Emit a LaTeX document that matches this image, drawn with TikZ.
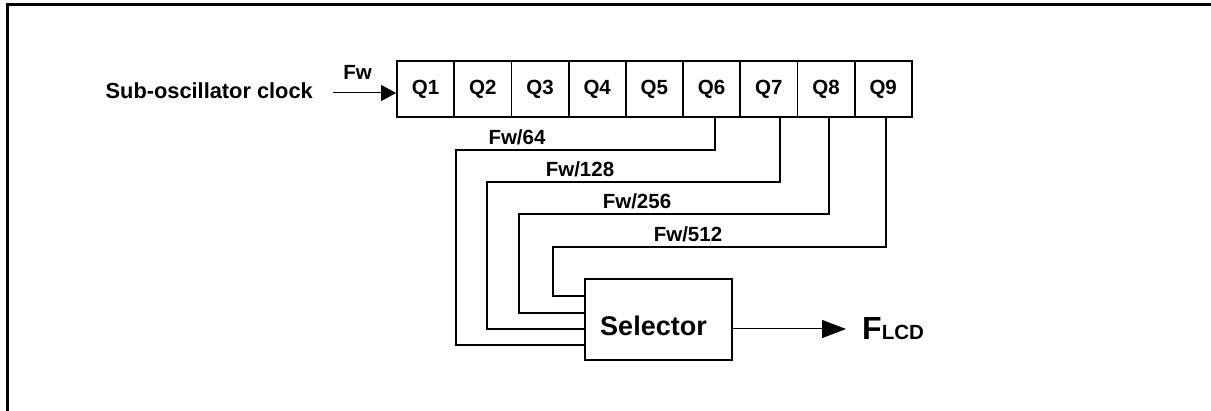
\documentclass[tikz,border=0pt]{standalone}
\usepackage{fontspec}
\setmainfont{Liberation Sans}
\usetikzlibrary{arrows.meta,calc}
\begin{document}
\begin{tikzpicture}[x=1pt,y=-1pt,
  frameline/.style={line width=3pt,line cap=rect},
  cell/.style={draw,line width=1.8pt,minimum width=57.2pt,minimum height=56pt,inner sep=0pt,
    font=\fontsize{20.5}{24}\selectfont\bfseries},
  txt/.style={inner sep=0pt,font=\fontsize{20.5}{24}\selectfont\bfseries},
  wire/.style={line width=2.2pt},
  thinarr/.style={line width=1pt},
  selbox/.style={draw,line width=2.2pt,minimum width=147pt,minimum height=81pt,inner sep=0pt},
  seltext/.style={inner sep=0pt,font=\fontsize{27}{30}\selectfont\bfseries}]
\useasboundingbox (0,0) rectangle (1211,411);
\draw[frameline] (7,411) -- (7,5) -- (1211,5);
% register
\foreach \i in {1,...,9}
  \node[cell] (Q\i) at ({397+57.2*(\i-0.5)},89) {Q\i};
% input
\node[txt,anchor=east,font=\fontsize{21.8}{24}\selectfont\bfseries] (clk) at (313,90.5) {Sub-oscillator clock};
\node[txt] (fw) at (357.5,72) {Fw};
\coordinate (clkin) at (333,93);
\draw[thinarr,-{Triangle[length=15pt,width=16pt]}] (clkin) -- (clkin -| Q1.west);
% selector
\node[selbox,label={[seltext,xshift=-5pt,yshift=-6pt]center:Selector}] (sel) at (658.5,319.5) {};
% output
\node[inner sep=0pt,anchor=west] (flcd) at (862,329)
  {\bfseries{\fontsize{32}{32}\selectfont F}{\fontsize{20.5}{20}\selectfont LCD}};
\draw[thinarr,-{Triangle[length=24pt,width=18pt]}] (sel.east |- flcd.west) -- ([xshift=-16pt]flcd.west);
% wire corners
\coordinate (k64) at (456,150);
\coordinate (k128) at (487,182);
\coordinate (k256) at (519,214);
\coordinate (k512) at (553,247);
\draw[wire] ([xshift=3.4pt]Q6.south) |- (k64) |- ([yshift=16pt]sel.south west);
\draw[wire] ([xshift=11pt]Q7.south) |- (k128) |- ([yshift=32pt]sel.south west);
\draw[wire] ([xshift=3pt]Q8.south) |- (k256) |- ([yshift=48pt]sel.south west);
\draw[wire] ([xshift=3pt]Q9.south) |- (k512) |- ([yshift=65pt]sel.south west);
% labels
\node[txt] (l64) at (517,137) {Fw/64};
\node[txt] (l128) at (580,169) {Fw/128};
\node[txt] (l256) at (637,201) {Fw/256};
\node[txt] (l512) at (688,234) {Fw/512};
\end{tikzpicture}
\end{document}
